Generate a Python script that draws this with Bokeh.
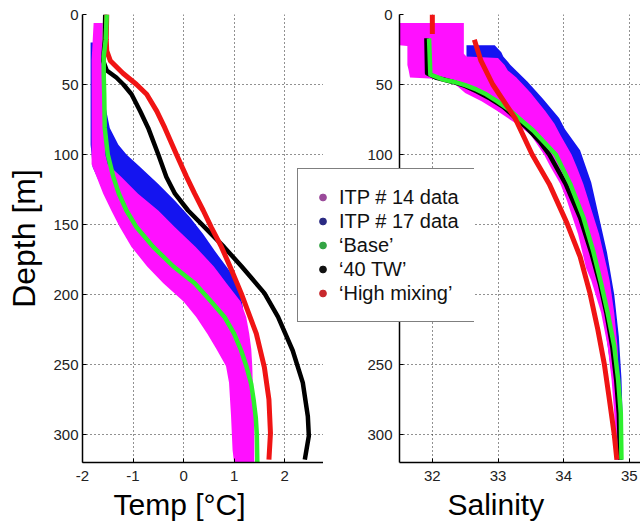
from bokeh.plotting import figure
from bokeh.models import Range1d, Legend, LegendItem, Title, FixedTicker
from bokeh.layouts import row
from bokeh.embed import file_html
from bokeh.resources import INLINE

FONT = "Liberation Sans"
NAN = float("nan")

# ---------------- data ----------------
depth_ticks = [0, 50, 100, 150, 200, 250, 300]
temp_ticks = [-2, -1, 0, 1, 2]
temp_tick_labels = {-2: "-2", -1: "-1", 0: "0", 1: "1", 2: "2"}
sal_ticks = [32, 33, 34, 35]

# ITP 14 temperature band (min / max at each depth)
itp14_t_depth = [6, 33, 100, 107, 116, 128, 140, 152, 166, 180, 192, 205, 216, 228, 239, 251, 263, 287, 311, 320]
itp14_t_min = [-1.78, -1.82, -1.82, -1.82, -1.72, -1.59, -1.43, -1.26, -1.03, -0.72, -0.40, 0.0, 0.25, 0.47, 0.65, 0.84, 0.90, 0.94, 0.97, 1.0]
itp14_t_max = [-1.60, -1.62, -1.55, -1.50, -1.23, -0.90, -0.50, -0.17, 0.24, 0.60, 0.85, 1.13, 1.24, 1.30, 1.34, 1.36, 1.37, 1.40, 1.40, 1.40]

# ITP 17 temperature band
itp17_t_depth = [20, 65, 81, 93, 100, 109, 121, 133, 145, 157, 169, 183, 192, 199, 210]
itp17_t_min = [-1.84, -1.84, -1.84, -1.84, -1.82, -1.80, -1.65, -1.50, -1.33, -1.15, -0.93, -0.60, -0.35, -0.10, 0.20]
itp17_t_max = [-1.62, -1.55, -1.46, -1.29, -1.13, -0.86, -0.50, -0.17, 0.13, 0.39, 0.62, 0.91, 1.05, 1.12, 1.18]

# model temperature profiles
base_t_depth = [0, 18, 30, 43, 57, 81, 100, 116, 128, 140, 152, 166, 180, 192, 204, 216, 228, 240, 252, 264, 276, 288, 300, 320]
base_t = [-1.52, -1.54, -1.58, -1.58, -1.57, -1.56, -1.50, -1.39, -1.28, -1.13, -0.93, -0.60, -0.20, 0.22, 0.52, 0.81, 1.00, 1.14, 1.25, 1.34, 1.39, 1.43, 1.45, 1.46]

tw40_t_depth = [0, 18, 33, 40, 45, 50, 57, 69, 81, 100, 116, 128, 140, 152, 166, 180, 199, 216, 240, 263, 287, 301, 318]
tw40_t = [-1.55, -1.56, -1.59, -1.52, -1.33, -1.19, -1.03, -0.86, -0.70, -0.50, -0.34, -0.17, 0.09, 0.42, 0.80, 1.15, 1.60, 1.87, 2.16, 2.36, 2.46, 2.48, 2.40]

mix_t_depth = [0, 18, 26, 33, 42, 50, 57, 69, 81, 100, 116, 128, 140, 152, 166, 180, 199, 228, 252, 275, 299, 318]
mix_t = [-1.52, -1.53, -1.52, -1.45, -1.20, -0.93, -0.73, -0.53, -0.37, -0.14, 0.06, 0.22, 0.39, 0.55, 0.75, 0.92, 1.14, 1.44, 1.60, 1.69, 1.72, 1.69]

# ITP 14 salinity band
itp14_s_depth = [6, 22, 22.5, 28, 30, 31, 36, 40, 45, 46, 50, 56, 62, 69, 78, 86, 100, 109, 121, 133, 157, 181, 190, 213, 237, 261, 285, 318]
itp14_s_min = [31.5, 31.5, 31.62, 31.62, 31.62, 31.62, 31.62, 31.64, 31.66, 32.10, 32.35, 32.50, 32.75, 32.99, 33.28, 33.50, 33.70, 33.80, 33.95, 34.05, 34.22, 34.34, 34.42, 34.57, 34.67, 34.73, 34.77, 34.79]
itp14_s_max = [32.48, 32.48, 32.48, 32.48, 32.52, 33.00, 33.10, 33.15, 33.28, 33.30, 33.38, 33.50, 33.60, 33.72, 33.86, 33.95, 34.12, 34.20, 34.30, 34.38, 34.54, 34.66, 34.70, 34.77, 34.82, 34.84, 34.85, 34.85]

# ITP 17 salinity band
itp17_s_depth = [22, 27, 30, 36, 48, 60, 74, 82, 97, 120, 145, 170, 200, 230, 260, 290, 318]
itp17_s_min = [32.52, 32.52, 32.52, 32.60, 32.90, 33.20, 33.50, 33.60, 33.80, 34.00, 34.20, 34.40, 34.55, 34.65, 34.74, 34.80, 34.80]
itp17_s_max = [32.95, 33.05, 33.08, 33.19, 33.45, 33.68, 33.93, 34.02, 34.25, 34.42, 34.54, 34.66, 34.77, 34.84, 34.88, 34.90, 34.90]

# model salinity profiles
base_s_depth = [17, 43, 46.5, 48, 50.5, 53.5, 57, 62, 68, 75, 83, 93, 100, 121, 145, 169, 192, 213, 237, 261, 285, 318]
base_s = [31.95, 31.97, 32.17, 32.32, 32.50, 32.67, 32.82, 32.99, 33.17, 33.34, 33.54, 33.74, 33.88, 34.10, 34.30, 34.45, 34.57, 34.67, 34.77, 34.83, 34.87, 34.88]

tw40_s_depth = [17, 42, 45, 48, 51, 55, 60, 66, 73, 81, 91, 100, 121, 145, 170, 192, 213, 237, 261, 285, 318]
tw40_s = [31.91, 31.92, 32.05, 32.30, 32.50, 32.68, 32.88, 33.08, 33.25, 33.44, 33.64, 33.78, 34.03, 34.25, 34.42, 34.55, 34.65, 34.74, 34.80, 34.84, 34.86]

# NaN marks the gap in the 'High mixing' profile just below the surface
mix_s_depth = [0, 14, 16, 18, 33, 50, 74, 100, 121, 149, 173, 199, 225, 250, 273, 300, 318]
mix_s = [32.00, 32.00, NAN, 32.64, 32.74, 32.92, 33.26, 33.52, 33.78, 34.05, 34.25, 34.40, 34.52, 34.62, 34.69, 34.77, 34.81]

legend_labels = ["ITP # 14 data", "ITP # 17 data", "\u2018Base\u2019", "\u201840 TW\u2019", "\u2018High mixing\u2019"]
legend_colors = ["#9a4a9a", "#2a2a82", "#33a444", "#111111", "#c8282c"]

C_ITP14 = "#ff10ff"
C_ITP17 = "#1414f0"
C_BASE = "#2ef02e"
C_TW40 = "#000000"
C_MIX = "#f01414"


def style(p, xticks, ylabel_standoff):
    xt = FixedTicker(ticks=xticks)
    yt = FixedTicker(ticks=depth_ticks)
    p.xaxis.ticker = xt
    p.xgrid.ticker = xt
    p.yaxis.ticker = yt
    p.ygrid.ticker = yt
    for ax in (p.xaxis[0], p.yaxis[0]):
        ax.axis_line_color = "black"
        ax.axis_line_width = 1.5
        ax.major_tick_in = 4
        ax.major_tick_out = 0
        ax.major_tick_line_color = "black"
        ax.minor_tick_line_color = None
        ax.major_label_text_font = FONT
        ax.major_label_text_font_size = "15px"
        ax.major_label_text_color = "#222222"
    p.xaxis.major_label_standoff = 8
    p.yaxis.major_label_standoff = ylabel_standoff
    p.grid.grid_line_color = "#222222"
    p.grid.grid_line_dash = "1 3"
    p.grid.grid_line_width = 1
    p.outline_line_color = None
    p.background_fill_color = "white"


def xtitle(text, offset):
    return Title(text=text, align="left", offset=offset, standoff=4, text_font=FONT,
                 text_font_size="30px", text_font_style="normal", text_color="black")


# ---------------- left: temperature ----------------
p1 = figure(frame_width=241, frame_height=448, x_range=Range1d(-2.0, 2.77), y_range=Range1d(320, 0),
            min_border_left=82, min_border_right=0, min_border_top=14, min_border_bottom=10,
            output_backend="svg", toolbar_location=None)
style(p1, temp_ticks, 4)
p1.xaxis.major_label_overrides = temp_tick_labels
p1.yaxis.axis_label = "Depth [m]"
p1.yaxis.axis_label_text_font = FONT
p1.yaxis.axis_label_text_font_size = "32px"
p1.yaxis.axis_label_text_font_style = "normal"
p1.yaxis.axis_label_text_color = "black"
p1.yaxis.axis_label_standoff = 8
p1.add_layout(xtitle("Temp [\u00b0C]", 31), "below")

p1.harea(x1=itp17_t_min, x2=itp17_t_max, y=itp17_t_depth, fill_color=C_ITP17)
p1.harea(x1=itp14_t_min, x2=itp14_t_max, y=itp14_t_depth, fill_color=C_ITP14)
p1.line(tw40_t, tw40_t_depth, line_color=C_TW40, line_width=4.5, line_join="round")
p1.line(mix_t, mix_t_depth, line_color=C_MIX, line_width=5, line_join="round")
p1.line(base_t, base_t_depth, line_color=C_BASE, line_width=4.5, line_join="round")

# ---------------- right: salinity ----------------
p2 = figure(frame_width=241, frame_height=448, x_range=Range1d(31.5, 35.17), y_range=Range1d(320, 0),
            min_border_left=76, min_border_right=0, min_border_top=14, min_border_bottom=10,
            output_backend="svg", toolbar_location=None)
style(p2, sal_ticks, 7)
p2.add_layout(xtitle("Salinity", 48), "below")

p2.harea(x1=itp17_s_min, x2=itp17_s_max, y=itp17_s_depth, fill_color=C_ITP17)
p2.harea(x1=itp14_s_min, x2=itp14_s_max, y=itp14_s_depth, fill_color=C_ITP14)
p2.line(tw40_s, tw40_s_depth, line_color=C_TW40, line_width=4.5, line_join="round")
p2.line(base_s, base_s_depth, line_color=C_BASE, line_width=4.5, line_join="round")
p2.line(mix_s, mix_s_depth, line_color=C_MIX, line_width=5, line_join="round")

# ---------------- legend (transparent overlay spanning both panels) ----------------
pleg = figure(width=178, height=524, min_border=0, x_range=Range1d(100, 101), y_range=Range1d(1000, 1001),
              x_axis_location=None, y_axis_location=None, output_backend="svg",
              toolbar_location=None, margin=(0, 166, 0, -344))
pleg.grid.visible = False
pleg.outline_line_color = None
pleg.background_fill_alpha = 0
pleg.border_fill_alpha = 0

# legend proxies: one point of each series, outside the overlay's visible range
proxy_x = [itp14_t_min[0], itp17_t_min[0], base_t[0], tw40_t[0], mix_t[0]]
proxy_y = [itp14_t_depth[0], itp17_t_depth[0], base_t_depth[0], tw40_t_depth[0], mix_t_depth[0]]
items = []
for lbl, col, px, py in zip(legend_labels, legend_colors, proxy_x, proxy_y):
    r = pleg.scatter(x=[px], y=[py], marker="circle", size=7, fill_color=col, line_color=col)
    items.append(LegendItem(label=lbl, renderers=[r]))
legend = Legend(items=items, location=(1, 142), padding=16, spacing=0, margin=0,
                glyph_width=17, glyph_height=24, label_height=24, label_width=119,
                label_standoff=8, label_text_font=FONT, label_text_font_size="20px",
                label_text_color="#111111", border_line_color="black", border_line_width=1,
                background_fill_color="white", background_fill_alpha=1.0)
pleg.add_layout(legend)

layout = row(p1, p2, pleg)
open("out.html", "w").write(file_html(layout, INLINE))
